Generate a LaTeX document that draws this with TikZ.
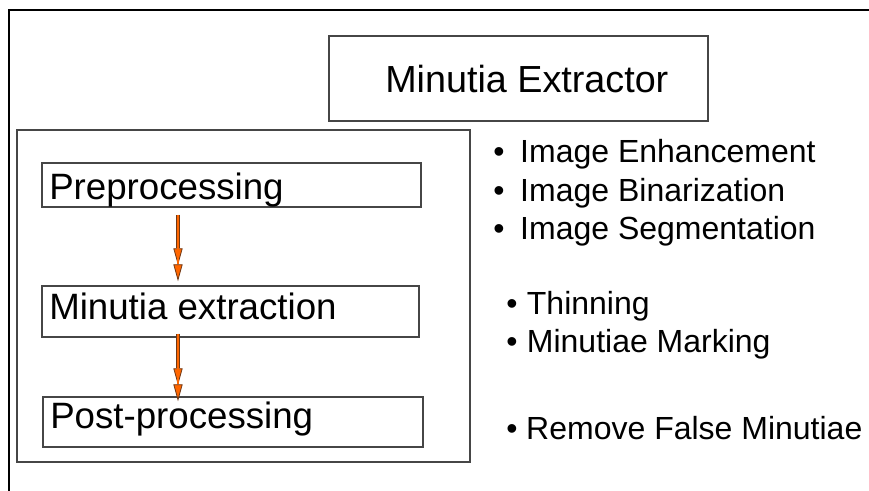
\documentclass[tikz,border=0pt]{standalone}
\usepackage{fontspec}
\setmainfont{Liberation Sans}
\usetikzlibrary{arrows.meta,calc}
\definecolor{arrowfill}{RGB}{255,102,0}
\definecolor{arrowedge}{RGB}{110,55,20}
\definecolor{boxline}{RGB}{70,70,70}
\tikzset{
  boxnode/.style={draw=boxline, line width=1.1pt, inner sep=0pt, fill=none},
  lbl/.style={anchor=base west, inner sep=0pt, font=\fontsize{27.5pt}{30pt}\selectfont},
  title/.style={anchor=base west, inner sep=0pt, font=\fontsize{28.3pt}{31pt}\selectfont},
  item/.style={anchor=base west, inner sep=0pt, font=\fontsize{24pt}{27pt}\selectfont},
  flow/.style={draw=arrowfill, line width=2.1pt,
    -{Triangle[length=12.75pt,width=6.9pt,color=arrowedge,fill=arrowfill,line width=0.6pt]},
    preaction={draw=arrowedge, line width=3.45pt, shorten >=12pt}},
  frame/.style={draw=black, line width=1.5pt}
}
\begin{document}
\begin{tikzpicture}[x=0.75pt,y=-0.75pt]
\useasboundingbox (0,0) rectangle (869,491);
\fill[white] (0,0) rectangle (869,491);
% outer frame
\coordinate (fA) at (9,491);
\coordinate (fB) at (9,10);
\coordinate (fC) at (869,10);
\draw[frame] (fA) -- (fB) -- (fC);
% boxes
\node[boxnode, minimum width=284.25pt, minimum height=63.75pt] (ext) at (518.5,78.5) {};
\node[boxnode, minimum width=339.75pt, minimum height=249pt] (big) at (243.5,296) {};
\node[boxnode, minimum width=284.25pt, minimum height=33pt] (pre) at (231.5,185) {};
\node[boxnode, minimum width=282.75pt, minimum height=38.25pt] (mx) at (230.5,311.5) {};
\node[boxnode, minimum width=285pt, minimum height=37.5pt] (post) at (233,422) {};
% texts
\node[title] (extT) at (385,93) {Minutia Extractor};
\node[lbl] (preT) at (49,200) {Preprocessing};
\node[lbl] (mxT) at (49,320) {Minutia extraction};
\node[lbl] (postT) at (50,429) {Post-processing};
% arrows
\coordinate (ax) at (178,0);
\draw[flow] ($(pre.south -| ax)+(0,7)$) -- ($(mx.north -| ax)+(0,-4)$);
\draw[flow] ($(mx.south -| ax)+(0,-4)$) -- ($(post.north -| ax)+(0,5)$);
% bullet list
\node[item] (i1) at (493,163) {\makebox[20.25pt][l]{•}Image Enhancement};
\node[item] (i2) at (493,202) {\makebox[20.25pt][l]{•}Image Binarization};
\node[item] (i3) at (493,240) {\makebox[20.25pt][l]{•}Image Segmentation};
\node[item] (i4) at (506,315) {\makebox[15.5pt][l]{•}Thinning};
\node[item] (i5) at (506,353) {\makebox[15.5pt][l]{•}Minutiae Marking};
\node[item] (i6) at (506,440) {\makebox[15pt][l]{•}Remove False Minutiae};
\end{tikzpicture}
\end{document}
